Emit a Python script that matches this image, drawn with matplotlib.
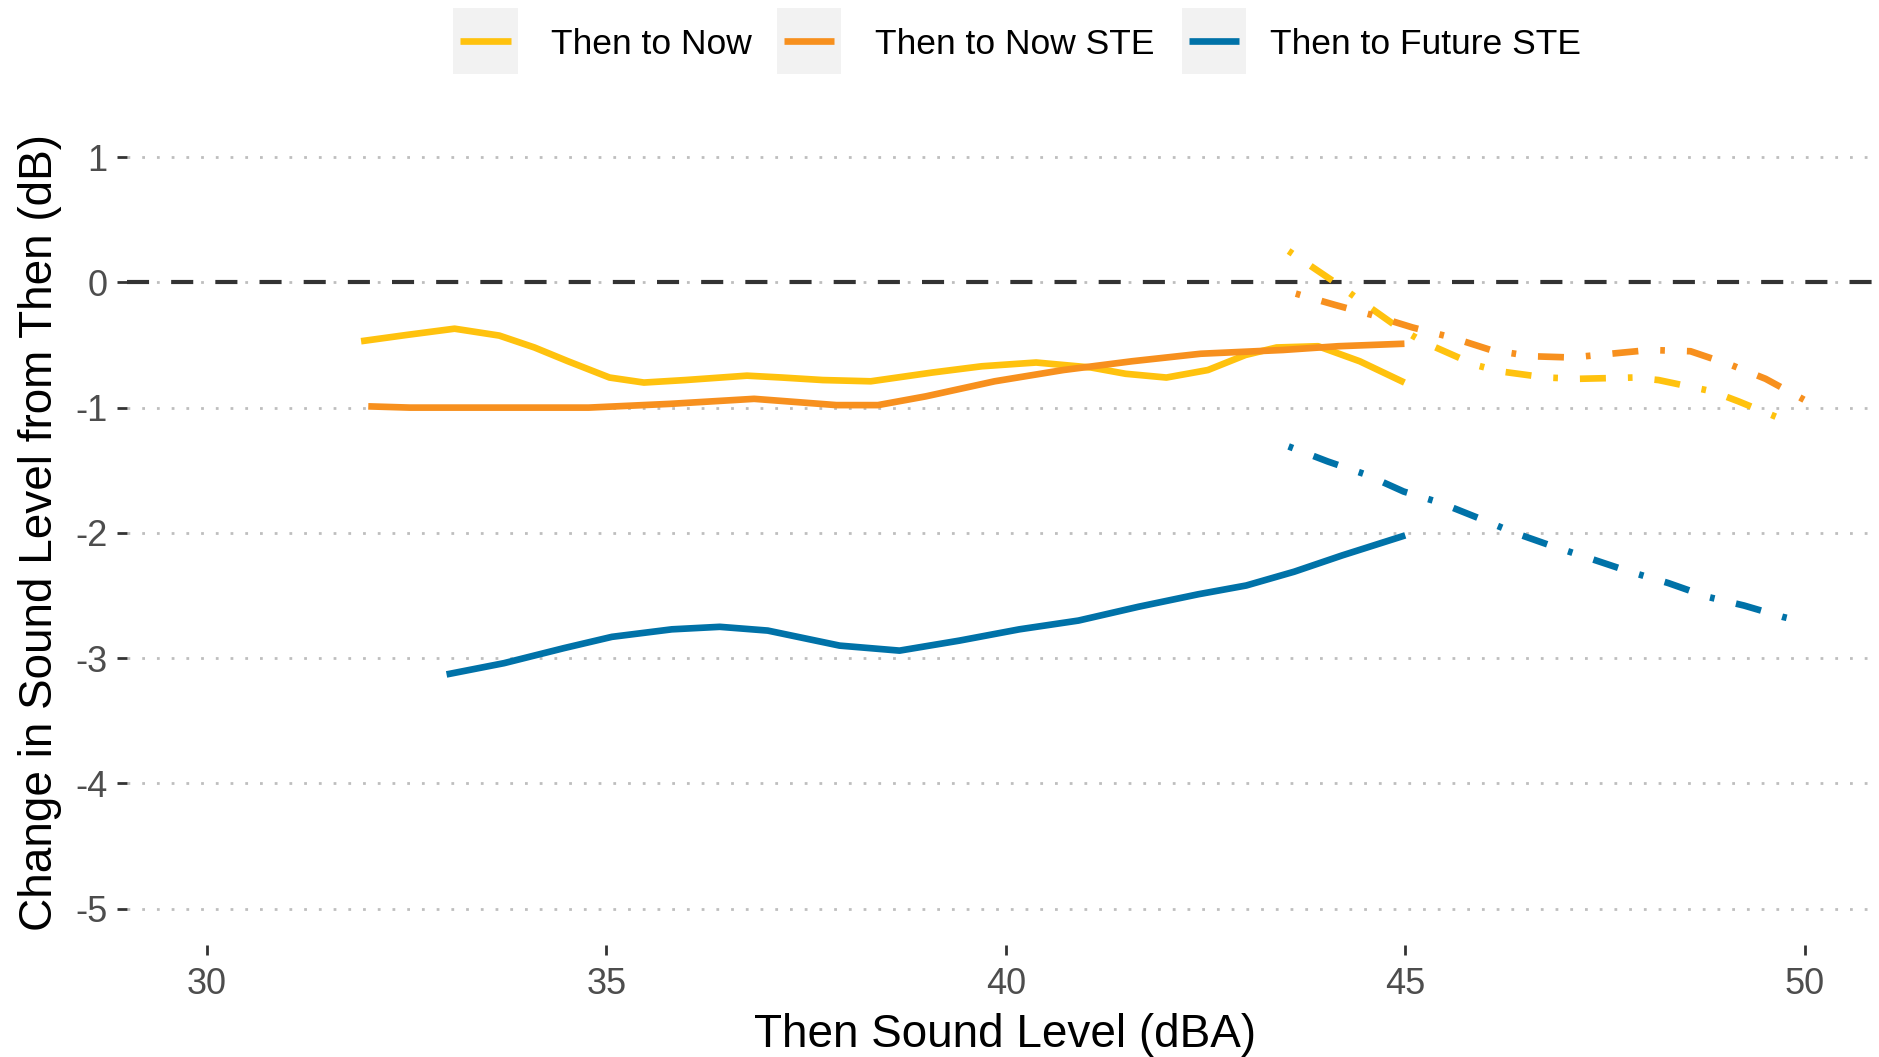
import matplotlib
matplotlib.use('Agg')
import matplotlib.pyplot as plt
from matplotlib.patches import Rectangle
from matplotlib.lines import Line2D

plt.rcParams['font.family'] = ['Liberation Sans', 'DejaVu Sans']
plt.rcParams['axes.unicode_minus'] = False

# ---------------- data ----------------
series_names = ["Then to Now", "Then to Now STE", "Then to Future STE"]
series_colors = ['#FFC20E', '#F7901E', '#0072A8']

# observed (solid) curves
now_x = [31.93, 32.5, 33.10, 33.66, 34.1, 34.52, 35.04, 35.47, 35.99, 36.76, 37.2, 37.71,
         38.31, 39.08, 39.7, 40.38, 41.07, 41.5, 42.01, 42.53, 43.0, 43.39, 43.91, 44.43, 44.99]
now_y = [-0.47, -0.42, -0.37, -0.425, -0.52, -0.63, -0.76, -0.80, -0.78, -0.745, -0.76, -0.78,
         -0.79, -0.72, -0.67, -0.64, -0.68, -0.73, -0.76, -0.70, -0.58, -0.52, -0.51, -0.63, -0.80]

now_ste_x = [32.02, 32.54, 33.5, 34.78, 35.8, 36.85, 37.88, 38.40, 39.0, 39.86, 40.72,
             41.58, 42.44, 43.47, 44.16, 44.99]
now_ste_y = [-0.99, -1.0, -1.0, -1.0, -0.97, -0.93, -0.98, -0.98, -0.91, -0.79, -0.70,
             -0.63, -0.57, -0.54, -0.51, -0.49]

future_ste_x = [33.0, 33.72, 34.47, 35.07, 35.82, 36.42, 37.02, 37.92, 38.67, 39.42, 40.17,
                40.91, 41.66, 42.41, 43.01, 43.61, 44.21, 45.0]
future_ste_y = [-3.13, -3.04, -2.92, -2.83, -2.77, -2.75, -2.78, -2.90, -2.94, -2.86, -2.77,
                -2.70, -2.59, -2.49, -2.42, -2.31, -2.18, -2.02]

# projected (dot-dash) curves
now_proj_x = [43.54, 44.12, 44.38, 44.91, 45.24, 45.88, 46.18, 46.76, 47.18, 47.85, 48.17,
              48.84, 49.17, 49.82]
now_proj_y = [0.25, 0.0, -0.12, -0.36, -0.48, -0.66, -0.71, -0.76, -0.77, -0.76, -0.78,
              -0.87, -0.95, -1.12]

now_ste_proj_x = [43.63, 44.12, 44.58, 45.09, 45.58, 46.07, 46.58, 47.09, 47.57, 48.06,
                  48.57, 49.08, 49.51, 50.0]
now_ste_proj_y = [-0.09, -0.18, -0.26, -0.36, -0.44, -0.54, -0.59, -0.60, -0.57, -0.54,
                  -0.55, -0.66, -0.77, -0.94]

future_ste_proj_x = [43.54, 44.03, 44.51, 44.98, 45.44, 45.91, 46.37, 46.86, 47.34, 47.81,
                     48.29, 48.78, 49.24, 49.72, 49.92]
future_ste_proj_y = [-1.31, -1.43, -1.535, -1.67, -1.76, -1.88, -2.0, -2.11, -2.21, -2.31,
                     -2.40, -2.51, -2.58, -2.67, -2.70]

x_ticks = [30, 35, 40, 45, 50]
y_ticks = [-5, -4, -3, -2, -1, 0, 1]

# ---------------- figure ----------------
W, H = 1879, 1057
fig = plt.figure(figsize=(W / 100, H / 100), dpi=100)

def fx(px):
    return px / W

def fy(py):
    return 1 - py / H

left, right, top, bottom = 127, 1879, 122, 945
ax = fig.add_axes([fx(left), fy(bottom), fx(right - left), (bottom - top) / H])
ax.set_xlim(29.0, 50.93)
ax.set_ylim(-5.29, 1.28)
for s in ax.spines.values():
    s.set_visible(False)

ax.set_xticks(x_ticks)
ax.set_yticks(y_ticks)
ax.yaxis.grid(True, color='#BEBEBE', lw=2.0, ls=(0, (1, 4.3)), zorder=0)
ax.xaxis.grid(False)
ax.set_axisbelow(True)
ax.tick_params(axis='both', length=7, width=2.0, color='#333333',
               labelsize=26, labelcolor='#4D4D4D', pad=7)
ax.tick_params(axis='x', pad=9)

ax.axhline(0, color='#333333', lw=3.0, ls=(0, (5.3, 5.3)), zorder=2)

lw = 4.8
dotdash = (0, (0.7, 3.3, 3.9, 3.3))
solids = [(now_x, now_y), (now_ste_x, now_ste_y), (future_ste_x, future_ste_y)]
projs = [(now_proj_x, now_proj_y), (now_ste_proj_x, now_ste_proj_y),
         (future_ste_proj_x, future_ste_proj_y)]
for (sx, sy), (px_, py_), c in zip(solids, projs, series_colors):
    ax.plot(sx, sy, color=c, lw=lw, solid_capstyle='butt', solid_joinstyle='round', zorder=3)
    ax.plot(px_, py_, color=c, lw=lw, ls=dotdash, dash_capstyle='butt', zorder=3)

ax.set_xlabel("Then Sound Level (dBA)", fontsize=33, color='black')
ax.xaxis.set_label_coords(0.501, (H - 1035 - (H - bottom)) / (bottom - top))
ax.xaxis.label.set_va('center')
ax.set_ylabel("Change in Sound Level from Then (dB)", fontsize=33, color='black')
ax.yaxis.set_label_coords((40 - left) / (right - left), 0.501)
ax.yaxis.label.set_va('center')

# ---------------- legend ----------------
key_boxes = [(453, 518), (777, 841), (1182, 1246)]
text_x = [551, 875, 1270]
ky0, ky1 = 8, 74
kc = (ky0 + ky1) / 2
for (bx0, bx1), tx, name, c in zip(key_boxes, text_x, series_names, series_colors):
    fig.add_artist(Rectangle((fx(bx0), fy(ky1)), fx(bx1 - bx0), (ky1 - ky0) / H,
                             transform=fig.transFigure, facecolor='#F2F2F2',
                             edgecolor='none'))
    fig.add_artist(Line2D([fx(bx0 + 7), fx(bx1 - 7)], [fy(kc), fy(kc)],
                          transform=fig.transFigure, color=c, lw=4.8,
                          solid_capstyle='butt'))
    fig.text(fx(tx), fy(kc + 4), name, fontsize=25.5, color='black', ha='left', va='center')

fig.savefig('out.png', dpi=100)
